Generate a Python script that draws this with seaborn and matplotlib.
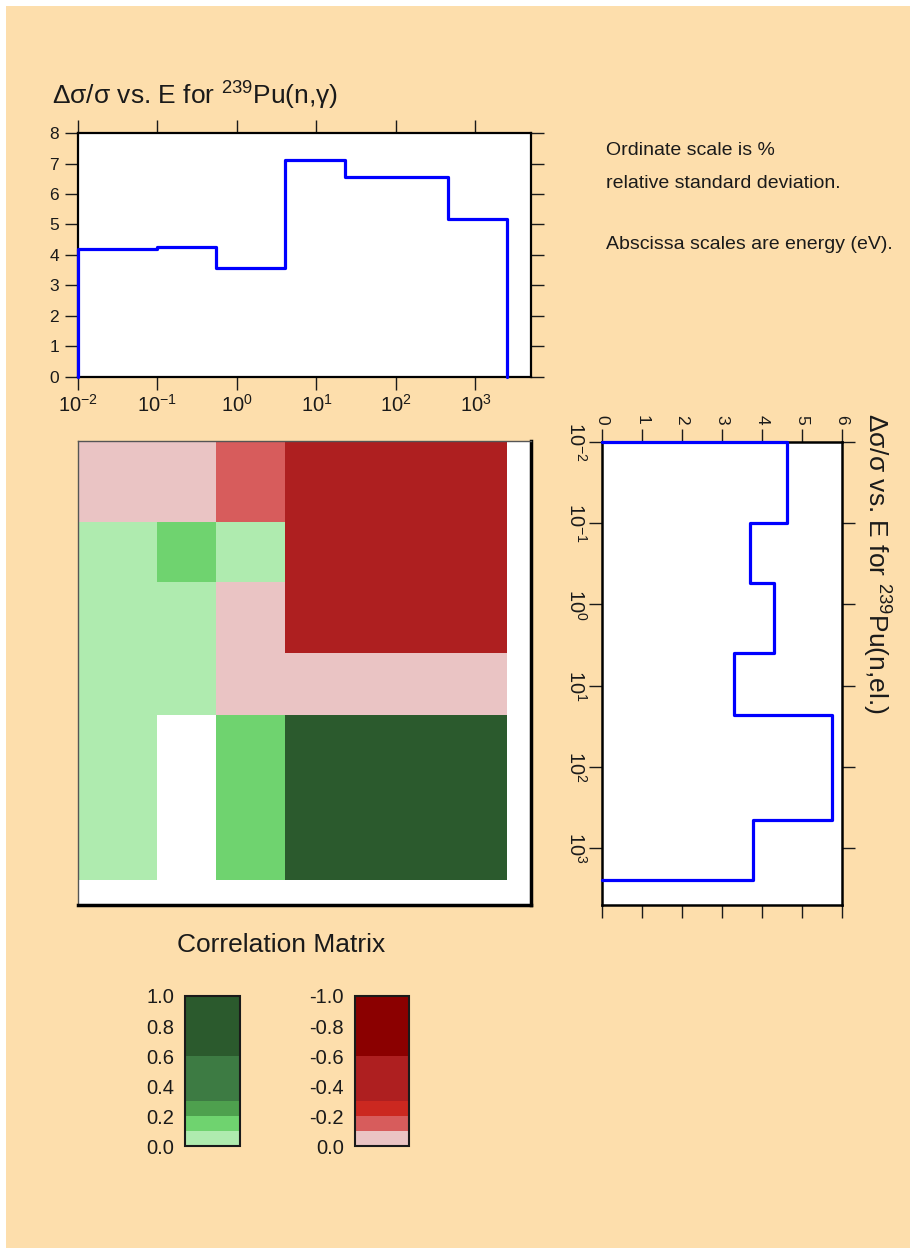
import numpy as np
import matplotlib
matplotlib.use("Agg")
import matplotlib.pyplot as plt
import seaborn as sns
from matplotlib.colors import ListedColormap, BoundaryNorm
from matplotlib.cm import ScalarMappable
from matplotlib.patches import Rectangle
from matplotlib.ticker import LogLocator, NullLocator

# ---- values ----
energy_edges = [1e-2, 0.1, 0.54, 4.0, 23.0, 450.0, 2470.0]   # group boundaries (eV)
capture_unc = [4.20, 4.27, 3.56, 7.11, 6.57, 5.17]           # Pu-239 (n,gamma), % rel. std. dev.
elastic_unc = [4.62, 3.70, 4.30, 3.30, 5.75, 3.78]           # Pu-239 (n,el.), % rel. std. dev.
# rows = elastic groups (low -> high energy), columns = capture groups (low -> high)
corr = [
    [-0.05, -0.05, -0.15, -0.45, -0.45, -0.45],
    [0.05, 0.15, 0.05, -0.45, -0.45, -0.45],
    [0.05, 0.05, -0.05, -0.45, -0.45, -0.45],
    [0.05, 0.05, -0.05, -0.05, -0.05, -0.05],
    [0.05, np.nan, 0.15, 0.80, 0.80, 0.80],
    [0.05, np.nan, 0.15, 0.80, 0.80, 0.80],
]
pos_bounds = [0.0, 0.1, 0.2, 0.3, 0.6, 1.0]
neg_bounds = [-1.0, -0.6, -0.3, -0.2, -0.1, 0.0]
green_colors = ["#AFEBAF", "#6FD36F", "#4EA04E", "#3D7B43", "#2B5A2D"]
red_colors = ["#8B0000", "#AE1F20", "#CB2820", "#D75C5C", "#EAC4C4"]
pos_ticks = [0.0, 0.2, 0.4, 0.6, 0.8, 1.0]
neg_ticks = [-1.0, -0.8, -0.6, -0.4, -0.2, 0.0]
e_min, e_max = 1e-2, 5e3

PEACH = "#FDDEAC"
BLUE = "#0000FF"

sns.set_style("ticks")
plt.rcParams["font.family"] = ["Liberation Sans", "DejaVu Sans"]
plt.rcParams["mathtext.fontset"] = "custom"
plt.rcParams["mathtext.rm"] = "Liberation Sans"
plt.rcParams["mathtext.it"] = "Liberation Sans:italic"
plt.rcParams["mathtext.bf"] = "Liberation Sans:bold"
plt.rcParams["axes.unicode_minus"] = False
plt.rcParams["text.color"] = "#1a1a1a"

W, H = 910, 1248
fig = plt.figure(figsize=(W / 100, H / 100), dpi=100, facecolor="white")


def box(left, top, right, bottom):
    # pixel box -> figure fraction [l, b, w, h]
    return [left / W, 1 - bottom / H, (right - left) / W, (bottom - top) / H]


fig.add_artist(Rectangle((6 / W, 0), 1, 1 - 6 / H, transform=fig.transFigure,
                         facecolor=PEACH, edgecolor="none", zorder=-10))

tick_kw = dict(direction="out", length=9.5, width=1.0, color="#1a1a1a", labelcolor="#1a1a1a")
LOG_LABEL = 14.5
LIN_LABEL = 12.5

# =========================================================
# Top: capture uncertainty vs energy
# =========================================================
ax_top = fig.add_axes(box(78, 133, 531, 377))
x_top = [energy_edges[0]] + energy_edges
y_top = [0] + capture_unc + [0]
sns.lineplot(x=x_top, y=y_top, ax=ax_top, color=BLUE, lw=2.3, drawstyle="steps-post",
             sort=False, estimator=None, clip_on=False, zorder=5)
ax_top.set_xscale("log")
ax_top.set_xlim(e_min, e_max)
ax_top.set_ylim(0, 8)
ax_top.xaxis.set_major_locator(LogLocator(base=10, numticks=20))
ax_top.xaxis.set_minor_locator(NullLocator())
ax_top.set_yticks(range(9))
ax_top.tick_params(axis="x", top=True, pad=3, labelsize=LOG_LABEL, **tick_kw)
ax_top.tick_params(axis="y", right=True, pad=4, labelsize=LIN_LABEL, **tick_kw)
ax_top.set_facecolor("white")
for s in ax_top.spines.values():
    s.set_linewidth(1.6)
    s.set_color("black")
ax_top.set_xlabel("")
ax_top.set_ylabel("")

fig.text(52 / W, 1 - 105 / H, r"Δσ/σ vs. E for $^{239}$Pu(n,γ)", fontsize=19,
         ha="left", va="baseline")

# =========================================================
# Correlation matrix
# =========================================================
cmap = ListedColormap(red_colors + green_colors)
norm = BoundaryNorm(neg_bounds + pos_bounds[1:], cmap.N)
ax_mat = fig.add_axes(box(78, 441, 531, 905))
ax_mat.pcolormesh(energy_edges, energy_edges, np.ma.masked_invalid(np.array(corr)),
                  cmap=cmap, norm=norm)
ax_mat.set_xscale("log")
ax_mat.set_yscale("log")
ax_mat.set_xlim(e_min, e_max)
ax_mat.set_ylim(e_max, e_min)
ax_mat.set_xticks([])
ax_mat.set_yticks([])
ax_mat.xaxis.set_minor_locator(NullLocator())
ax_mat.yaxis.set_minor_locator(NullLocator())
ax_mat.set_facecolor("white")
for side in ["left", "top"]:
    ax_mat.spines[side].set_linewidth(1.0)
    ax_mat.spines[side].set_color("#555555")
for side in ["right", "bottom"]:
    ax_mat.spines[side].set_linewidth(2.5)
    ax_mat.spines[side].set_color("black")

fig.text(281 / W, 1 - 952 / H, "Correlation Matrix", fontsize=19, ha="center", va="baseline")

# =========================================================
# Right: elastic uncertainty vs energy (rotated)
# =========================================================
ax_el = fig.add_axes(box(602, 442, 842, 905))
x_el = [0] + elastic_unc + [0]
y_el = energy_edges + [energy_edges[-1]]
sns.lineplot(x=x_el, y=y_el, ax=ax_el, orient="y", color=BLUE, lw=2.3,
             drawstyle="steps-post", sort=False, estimator=None, clip_on=False, zorder=5)
ax_el.set_yscale("log")
ax_el.set_ylim(e_max, e_min)
ax_el.set_xlim(0, 6)
ax_el.set_xticks(range(7))
ax_el.yaxis.set_major_locator(LogLocator(base=10, numticks=20))
ax_el.yaxis.set_minor_locator(NullLocator())
ax_el.tick_params(axis="x", top=True, bottom=True, labeltop=True, labelbottom=False,
                  labelrotation=-90, pad=3, labelsize=LIN_LABEL, **tick_kw)
ax_el.tick_params(axis="y", left=True, right=True, labelrotation=-90, pad=1,
                  labelsize=LOG_LABEL, **tick_kw)
for lab in ax_el.get_yticklabels():
    lab.set_va("center")
ax_el.set_facecolor("white")
for s in ax_el.spines.values():
    s.set_linewidth(1.8)
    s.set_color("black")
ax_el.set_xlabel("")
ax_el.set_ylabel("")

fig.text(867 / W, 1 - 413 / H, r"Δσ/σ vs. E for $^{239}$Pu(n,el.)", fontsize=19,
         rotation=-90, rotation_mode="anchor", ha="left", va="baseline")

# ---- notes ----
fig.text(606 / W, 1 - 155 / H, "Ordinate scale is %", fontsize=14, va="baseline")
fig.text(606 / W, 1 - 188 / H, "relative standard deviation.", fontsize=14, va="baseline")
fig.text(606 / W, 1 - 249 / H, "Abscissa scales are energy (eV).", fontsize=14, va="baseline")

# =========================================================
# Colour keys
# =========================================================
cax_g = fig.add_axes(box(185, 996, 240, 1146))
cb_g = fig.colorbar(ScalarMappable(norm=BoundaryNorm(pos_bounds, len(green_colors)),
                                   cmap=ListedColormap(green_colors)),
                    cax=cax_g, spacing="proportional", ticks=pos_ticks, format="%.1f")
cax_r = fig.add_axes(box(355, 996, 409, 1146))
cb_r = fig.colorbar(ScalarMappable(norm=BoundaryNorm(neg_bounds, len(red_colors)),
                                   cmap=ListedColormap(red_colors)),
                    cax=cax_r, spacing="proportional", ticks=neg_ticks, format="%.1f")
cax_r.invert_yaxis()
for cb, cax in [(cb_g, cax_g), (cb_r, cax_r)]:
    cb.minorticks_off()
    cax.yaxis.set_ticks_position("left")
    cax.yaxis.set_label_position("left")
    cax.tick_params(which="both", length=0, labelsize=14.5, pad=8, labelcolor="#1a1a1a")
    cb.outline.set_linewidth(1.5)
    cb.outline.set_edgecolor("#1a1a1a")

fig.savefig("out.png", dpi=100, facecolor="white")
